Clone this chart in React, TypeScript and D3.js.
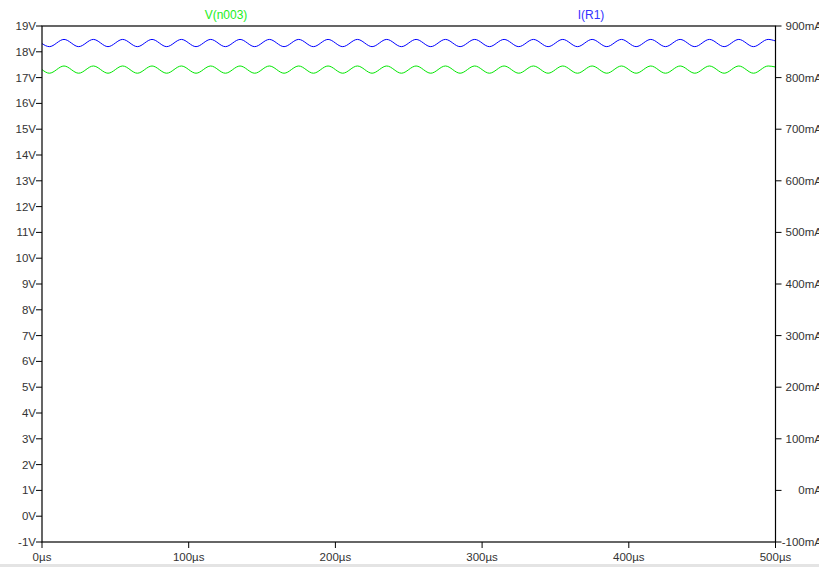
import React from "react";
import * as d3 from "d3";

// Transient simulation samples (time in µs) at the ripple extremes
const timeUs = [
  0, 5, 15, 25, 35, 45, 55, 65, 75, 85, 95, 105, 115, 125, 135, 145, 155, 165,
  175, 185, 195, 205, 215, 225, 235, 245, 255, 265, 275, 285, 295, 305, 315,
  325, 335, 345, 355, 365, 375, 385, 395, 405, 415, 425, 435, 445, 455, 465,
  475, 485, 495, 500,
];

// V(n003) in volts
const vN003 = [
  17.31, 17.17, 17.45, 17.17, 17.45, 17.17, 17.45, 17.17, 17.45, 17.17, 17.45,
  17.17, 17.45, 17.17, 17.45, 17.17, 17.45, 17.17, 17.45, 17.17, 17.45, 17.17,
  17.45, 17.17, 17.45, 17.17, 17.45, 17.17, 17.45, 17.17, 17.45, 17.17, 17.45,
  17.17, 17.45, 17.17, 17.45, 17.17, 17.45, 17.17, 17.45, 17.17, 17.45, 17.17,
  17.45, 17.17, 17.45, 17.17, 17.45, 17.17, 17.45, 17.41,
];

// I(R1) in mA
const iR1 = [
  866, 860, 874, 860, 874, 860, 874, 860, 874, 860, 874, 860, 874, 860, 874,
  860, 874, 860, 874, 860, 874, 860, 874, 860, 874, 860, 874, 860, 874, 860,
  874, 860, 874, 860, 874, 860, 874, 860, 874, 860, 874, 860, 874, 860, 874,
  860, 874, 860, 874, 860, 874, 871,
];

const xTicks = [0, 100, 200, 300, 400, 500];
const vTicks = [-1, 0, 1, 2, 3, 4, 5, 6, 7, 8, 9, 10, 11, 12, 13, 14, 15, 16, 17, 18, 19];
const iTicks = [-100, 0, 100, 200, 300, 400, 500, 600, 700, 800, 900];

const W = 819;
const H = 567;
const left = 42;
const right = 775.5;
const top = 26;
const bottom = 542;

const FONT = "Arial, 'Liberation Sans', sans-serif";
const TEXT = "#333";

export default function App() {
  const x = d3.scaleLinear().domain([0, 500]).range([left, right]);
  const yV = d3.scaleLinear().domain([-1, 19]).range([bottom, top]);
  const yI = d3.scaleLinear().domain([-100, 900]).range([bottom, top]);

  const vLine = d3
    .line<number>()
    .x((_, i) => x(timeUs[i]))
    .y((d) => yV(d))
    .curve(d3.curveMonotoneX);
  const iLine = d3
    .line<number>()
    .x((_, i) => x(timeUs[i]))
    .y((d) => yI(d))
    .curve(d3.curveMonotoneX);

  return (
    <svg
      width={W}
      height={H}
      style={{ position: "absolute", left: 0, top: 0, background: "#fff" }}
      fontFamily={FONT}
      fontSize={11.5}
    >
      <rect x={0} y={0} width={W} height={H} fill="#fff" />
      <rect x={0} y={H - 3} width={W} height={3} fill="#e4e4e4" />

      {/* traces */}
      <path d={iLine(iR1) || ""} fill="none" stroke="#0000ff" strokeWidth={1} />
      <path d={vLine(vN003) || ""} fill="none" stroke="#00e600" strokeWidth={1} />

      {/* plot frame */}
      <rect
        x={left}
        y={top}
        width={right - left}
        height={bottom - top}
        fill="none"
        stroke="#000"
        strokeWidth={1.2}
      />

      {/* left axis: volts */}
      {vTicks.map((v) => (
        <g key={"v" + v}>
          <line x1={left - 6} x2={left} y1={yV(v)} y2={yV(v)} stroke="#000" />
          <text x={left - 6} y={yV(v)} dy="0.35em" textAnchor="end" fill={TEXT}>
            {v}V
          </text>
        </g>
      ))}

      {/* right axis: milliamps */}
      {iTicks.map((v) => (
        <g key={"i" + v}>
          <line x1={right} x2={right + 6} y1={yI(v)} y2={yI(v)} stroke="#000" />
          <text x={822} y={yI(v)} dy="0.35em" textAnchor="end" fill={TEXT}>
            {v}mA
          </text>
        </g>
      ))}

      {/* bottom axis: time */}
      {xTicks.map((t) => (
        <g key={"t" + t}>
          <line x1={x(t)} x2={x(t)} y1={bottom} y2={bottom + 6} stroke="#000" />
          <text x={x(t)} y={561} textAnchor="middle" fill={TEXT}>
            {t}µs
          </text>
        </g>
      ))}

      {/* trace names */}
      <text x={226} y={19} textAnchor="middle" fill="#22ee22" fontSize={12}>
        V(n003)
      </text>
      <text x={591} y={19} textAnchor="middle" fill="#3333ff" fontSize={12}>
        I(R1)
      </text>
    </svg>
  );
}
